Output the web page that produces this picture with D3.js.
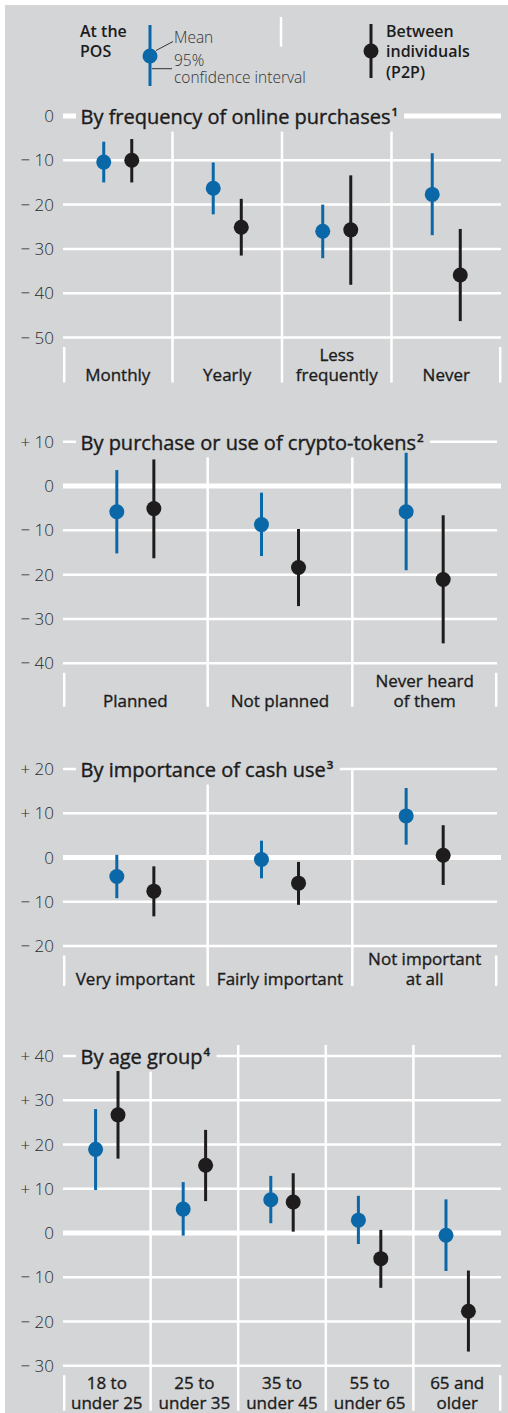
<!DOCTYPE html>
<html>
<head>
<meta charset="utf-8">
<script src="https://cdn.jsdelivr.net/npm/d3@7"></script>
<style>
  body { margin: 0; background: #ffffff; }
  svg { display: block; font-family: "Open Sans", "Noto Sans", sans-serif; }
</style>
</head>
<body>
<script>
// ---- Data: deviation in points, mean and 95% confidence interval ----
// Panel 1: by frequency of online purchases
const onlineCategories = [["Monthly"], ["Yearly"], ["Less", "frequently"], ["Never"]];
const onlinePosMean = [-10.4, -16.3, -26.0, -17.7];
const onlinePosLow  = [-15.0, -22.2, -32.1, -26.9];
const onlinePosHigh = [-5.8, -10.5, -20.0, -8.4];
const onlineP2pMean = [-10.0, -25.1, -25.7, -35.9];
const onlineP2pLow  = [-15.0, -31.5, -38.1, -46.3];
const onlineP2pHigh = [-5.2, -18.7, -13.4, -25.5];
const onlineTicks = [0, -10, -20, -30, -40, -50];

// Panel 2: by purchase or use of crypto-tokens
const cryptoCategories = [["Planned"], ["Not planned"], ["Never heard", "of them"]];
const cryptoPosMean = [-5.8, -8.7, -5.8];
const cryptoPosLow  = [-15.2, -15.8, -19.0];
const cryptoPosHigh = [3.6, -1.5, 7.5];
const cryptoP2pMean = [-5.1, -18.4, -21.1];
const cryptoP2pLow  = [-16.3, -27.1, -35.5];
const cryptoP2pHigh = [6.0, -9.7, -6.6];
const cryptoTicks = [10, 0, -10, -20, -30, -40];

// Panel 3: by importance of cash use
const cashCategories = [["Very important"], ["Fairly important"], ["Not important", "at all"]];
const cashPosMean = [-4.3, -0.45, 9.4];
const cashPosLow  = [-9.2, -4.7, 2.9];
const cashPosHigh = [0.6, 3.8, 15.7];
const cashP2pMean = [-7.6, -5.8, 0.5];
const cashP2pLow  = [-13.3, -10.7, -6.2];
const cashP2pHigh = [-2.0, -1.0, 7.3];
const cashTicks = [20, 10, 0, -10, -20];

// Panel 4: by age group
const ageCategories = [["18 to", "under 25"], ["25 to", "under 35"], ["35 to", "under 45"], ["55 to", "under 65"], ["65 and", "older"]];
const agePosMean = [18.9, 5.4, 7.5, 2.9, -0.5];
const agePosLow  = [9.7, -0.6, 2.2, -2.5, -8.6];
const agePosHigh = [28.0, 11.5, 12.9, 8.4, 7.6];
const ageP2pMean = [26.7, 15.3, 7.0, -5.8, -17.7];
const ageP2pLow  = [16.8, 7.2, 0.3, -12.4, -26.8];
const ageP2pHigh = [36.6, 23.3, 13.5, 0.7, -8.5];
const ageTicks = [40, 30, 20, 10, 0, -10, -20, -30];

// ---- Styling ----
const BG = "#d4d5d7";
const BLUE = "#0a67a8";
const BLACK = "#1e1c1d";
const TEXT = "#1c1c1c";

const W = 508, H = 1413;
const svg = d3.select("body").append("svg").attr("width", W).attr("height", H);

svg.append("rect").attr("x", 5).attr("y", 5).attr("width", W - 5).attr("height", H - 5).attr("fill", BG);

// ---- Legend ----
const legend = svg.append("g").attr("class", "legend");
legend.selectAll("text.pos").data(["At the", "POS"]).join("text")
  .attr("x", 80).attr("y", (d, i) => 37 + i * 20)
  .attr("font-size", 16).attr("font-weight", 600).attr("fill", TEXT).text(d => d);
legend.append("line").attr("x1", 150).attr("x2", 150).attr("y1", 25).attr("y2", 86)
  .attr("stroke", BLUE).attr("stroke-width", 3);
legend.append("circle").attr("cx", 150).attr("cy", 56).attr("r", 7.5).attr("fill", BLUE);
legend.append("line").attr("x1", 156).attr("y1", 50.5).attr("x2", 173).attr("y2", 41.5)
  .attr("stroke", "#333").attr("stroke-width", 1);
legend.append("line").attr("x1", 152).attr("y1", 68.7).attr("x2", 172).attr("y2", 68.7)
  .attr("stroke", "#333").attr("stroke-width", 1);
legend.selectAll("text.note").data([["Mean", 42.5], ["95%", 65.5], ["confidence interval", 83]]).join("text")
  .attr("x", 174).attr("y", d => d[1])
  .attr("font-size", 15.5).attr("font-weight", 300).attr("fill", "#333").text(d => d[0]);
legend.append("line").attr("x1", 281).attr("x2", 281).attr("y1", 17).attr("y2", 46.7)
  .attr("stroke", "#fff").attr("stroke-width", 2.5);
legend.append("line").attr("x1", 371).attr("x2", 371).attr("y1", 24).attr("y2", 78)
  .attr("stroke", BLACK).attr("stroke-width", 3);
legend.append("circle").attr("cx", 371).attr("cy", 51).attr("r", 7.5).attr("fill", BLACK);
legend.selectAll("text.p2p").data(["Between", "individuals", "(P2P)"]).join("text")
  .attr("x", 386).attr("y", (d, i) => 37 + i * 20.3)
  .attr("font-size", 16).attr("font-weight", 600).attr("fill", TEXT).text(d => d);

// ---- Panels ----
const fmtTick = v => v > 0 ? "+ " + v : v < 0 ? "\u2212 " + Math.abs(v) : "0";

function drawPanel(p) {
  const g = svg.append("g");
  const L = p.layout;
  const y = d3.scaleLinear().domain(d3.extent(p.ticks)).range([L.yBottom, L.yTop]);
  const x = d3.scaleBand().domain(d3.range(p.categories.length)).range([63, L.xRight]).padding(0);
  const bw = x.bandwidth();
  const xs = d3.scalePoint().domain(["pos", "p2p"]).range([bw * 0.372, bw * 0.628]);
  const bottom = L.yBottom + L.tickDrop;

  // horizontal grid
  g.selectAll("line.grid").data(p.ticks).join("line")
    .attr("x1", 63).attr("x2", d => d === 0 ? L.zeroRight : L.xRight)
    .attr("y1", d => y(d)).attr("y2", d => y(d))
    .attr("stroke", "#fff").attr("stroke-width", d => d === 0 ? 5 : 2.5);

  // category separators
  g.selectAll("line.sep").data(d3.range(1, p.categories.length)).join("line")
    .attr("x1", d => x(d)).attr("x2", d => x(d))
    .attr("y1", L.sepTop).attr("y2", bottom)
    .attr("stroke", "#fff").attr("stroke-width", 2.5);

  // outer ticks of the category axis
  g.selectAll("line.edge").data([64.2, L.xRight - 0.8]).join("line")
    .attr("x1", d => d).attr("x2", d => d)
    .attr("y1", L.yBottom + 9.5).attr("y2", bottom)
    .attr("stroke", "#fff").attr("stroke-width", 2.5);

  // title with a background patch over the top gridline
  const title = g.append("text").attr("x", 80.5).attr("y", L.yTop + 8)
    .attr("font-size", 20).attr("font-weight", 500).attr("fill", TEXT)
    .attr("stroke", TEXT).attr("stroke-width", 0.4);
  title.append("tspan").text(p.title);
  title.append("tspan").attr("font-size", 11.5).attr("font-weight", 600).attr("dy", -8).attr("dx", 1).text(p.note);
  const bb = title.node().getBBox();
  g.insert("rect", "text").attr("x", 76).attr("y", L.yTop - 14)
    .attr("width", bb.x + bb.width + 6 - 76).attr("height", 29.6).attr("fill", BG);

  // value axis labels
  g.selectAll("text.tick").data(p.ticks).join("text")
    .attr("x", 54).attr("y", d => y(d)).attr("dy", "0.36em")
    .attr("text-anchor", "end").attr("font-size", 17).attr("font-weight", 300)
    .attr("fill", "#2a2a2a").text(fmtTick);

  // category labels
  p.categories.forEach((lines, i) => {
    const t = g.append("text").attr("text-anchor", "middle")
      .attr("font-size", 17).attr("font-weight", 500).attr("fill", TEXT)
      .attr("stroke", TEXT).attr("stroke-width", 0.35);
    lines.forEach((ln, j) => {
      t.append("tspan").attr("x", x(i) + bw / 2)
        .attr("y", L.yBottom + L.labelDrop - (lines.length - 1 - j) * 20).text(ln);
    });
  });

  // error bars and means
  const series = [
    { key: "pos", color: BLUE, mean: p.posMean, low: p.posLow, high: p.posHigh },
    { key: "p2p", color: BLACK, mean: p.p2pMean, low: p.p2pLow, high: p.p2pHigh }
  ];
  series.forEach(s => {
    const cx = i => x(i) + xs(s.key);
    g.selectAll("line.ci-" + s.key).data(s.mean).join("line")
      .attr("x1", (d, i) => cx(i)).attr("x2", (d, i) => cx(i))
      .attr("y1", (d, i) => y(s.low[i])).attr("y2", (d, i) => y(s.high[i]))
      .attr("stroke", s.color).attr("stroke-width", 3);
    g.selectAll("circle.m-" + s.key).data(s.mean).join("circle")
      .attr("cx", (d, i) => cx(i)).attr("cy", d => y(d)).attr("r", 7.5)
      .attr("fill", s.color);
  });
}

drawPanel({
  title: "By frequency of online purchases", note: "1",
  categories: onlineCategories, ticks: onlineTicks,
  posMean: onlinePosMean, posLow: onlinePosLow, posHigh: onlinePosHigh,
  p2pMean: onlineP2pMean, p2pLow: onlineP2pLow, p2pHigh: onlineP2pHigh,
  layout: { yTop: 116, yBottom: 337.5, xRight: 501, zeroRight: 501, sepTop: 116, tickDrop: 45, labelDrop: 43.5 }
});
drawPanel({
  title: "By purchase or use of crypto-tokens", note: "2",
  categories: cryptoCategories, ticks: cryptoTicks,
  posMean: cryptoPosMean, posLow: cryptoPosLow, posHigh: cryptoPosHigh,
  p2pMean: cryptoP2pMean, p2pLow: cryptoP2pLow, p2pHigh: cryptoP2pHigh,
  layout: { yTop: 441.7, yBottom: 663.3, xRight: 497, zeroRight: 501, sepTop: 441.7, tickDrop: 43.4, labelDrop: 43.5 }
});
drawPanel({
  title: "By importance of cash use", note: "3",
  categories: cashCategories, ticks: cashTicks,
  posMean: cashPosMean, posLow: cashPosLow, posHigh: cashPosHigh,
  p2pMean: cashP2pMean, p2pLow: cashP2pLow, p2pHigh: cashP2pHigh,
  layout: { yTop: 769, yBottom: 946, xRight: 497, zeroRight: 501, sepTop: 769, tickDrop: 40, labelDrop: 39 }
});
drawPanel({
  title: "By age group", note: "4",
  categories: ageCategories, ticks: ageTicks,
  posMean: agePosMean, posLow: agePosLow, posHigh: agePosHigh,
  p2pMean: ageP2pMean, p2pLow: ageP2pLow, p2pHigh: ageP2pHigh,
  layout: { yTop: 1056, yBottom: 1365.7, xRight: 501, zeroRight: 501, sepTop: 1045, tickDrop: 45, labelDrop: 43.3 }
});
</script>
</body>
</html>
